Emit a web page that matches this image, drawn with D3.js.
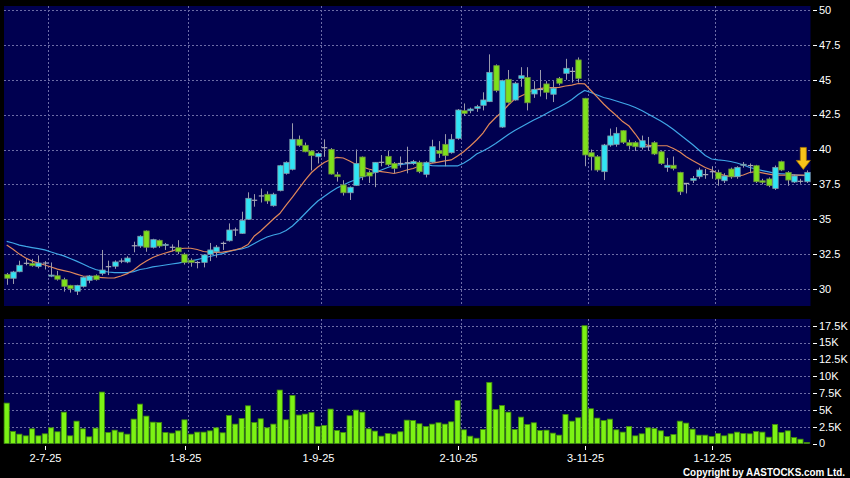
<!DOCTYPE html>
<html><head><meta charset="utf-8">
<script src="https://cdn.jsdelivr.net/npm/d3@7"></script>
<style>html,body{margin:0;padding:0;background:#000;}svg{display:block;}</style>
</head><body>
<svg id="chart" width="850" height="478"></svg>
<script>
const dates = ["20-6-25","23-6-25","24-6-25","25-6-25","26-6-25","27-6-25","30-6-25",
"2-7-25","3-7-25","4-7-25","7-7-25","8-7-25","9-7-25","10-7-25","11-7-25","14-7-25","15-7-25","16-7-25","17-7-25","18-7-25","21-7-25","22-7-25","23-7-25","24-7-25","25-7-25","28-7-25","29-7-25","30-7-25","31-7-25",
"1-8-25","4-8-25","5-8-25","6-8-25","7-8-25","8-8-25","11-8-25","12-8-25","13-8-25","14-8-25","15-8-25","18-8-25","19-8-25","20-8-25","21-8-25","22-8-25","25-8-25","26-8-25","27-8-25","28-8-25","29-8-25",
"1-9-25","2-9-25","3-9-25","4-9-25","5-9-25","8-9-25","9-9-25","10-9-25","11-9-25","12-9-25","15-9-25","16-9-25","17-9-25","18-9-25","19-9-25","22-9-25","23-9-25","24-9-25","25-9-25","26-9-25","29-9-25","30-9-25",
"2-10-25","3-10-25","6-10-25","8-10-25","9-10-25","10-10-25","13-10-25","14-10-25","15-10-25","16-10-25","17-10-25","20-10-25","21-10-25","22-10-25","23-10-25","24-10-25","27-10-25","28-10-25","30-10-25","31-10-25",
"3-11-25","4-11-25","5-11-25","6-11-25","7-11-25","10-11-25","11-11-25","12-11-25","13-11-25","14-11-25","17-11-25","18-11-25","19-11-25","20-11-25","21-11-25","24-11-25","25-11-25","26-11-25","27-11-25","28-11-25",
"1-12-25","2-12-25","3-12-25","4-12-25","5-12-25","8-12-25","9-12-25","10-12-25","11-12-25","12-12-25","15-12-25","16-12-25","17-12-25","18-12-25","19-12-25"];

const openP = [31.05,30.77,31.24,31.84,31.84,31.62,31.86,30.92,30.95,30.67,
30.26,29.84,30.19,30.62,30.95,31.12,31.60,31.63,32.00,31.94,
33.10,33.08,34.16,32.99,33.49,33.12,32.99,32.96,32.49,32.06,
31.90,31.91,32.49,32.67,33.27,33.46,34.23,33.99,35.00,36.36,
36.67,36.79,35.97,37.05,38.29,38.58,40.73,40.30,39.89,39.48,
40.13,40.01,38.19,37.46,36.90,37.43,39.46,38.36,38.36,39.08,
39.51,39.00,39.00,39.05,39.00,39.08,38.22,39.10,39.91,40.37,
39.77,40.80,42.78,42.78,42.95,43.17,43.43,46.01,41.61,45.03,
43.55,45.10,45.17,43.98,44.30,44.70,43.96,45.10,45.46,45.60,
46.42,43.67,39.77,39.48,38.41,40.32,40.37,41.35,40.49,40.49,
40.16,40.20,40.49,39.84,38.72,38.87,38.36,37.57,37.79,38.05,
38.20,38.41,38.34,37.76,38.60,38.05,38.88,38.85,38.84,37.76,
37.89,37.21,39.13,38.36,37.67,37.72,37.69];
const highP = [31.15,31.30,32.03,32.15,32.16,32.40,32.00,31.90,31.30,30.81,
30.30,30.30,30.90,31.00,31.05,32.80,32.03,32.05,32.20,32.35,
33.39,33.85,34.20,33.60,33.55,33.30,33.20,33.50,32.60,32.20,
32.00,32.50,33.30,33.15,33.40,34.70,34.40,35.54,36.93,36.80,
37.20,37.00,36.90,38.90,39.15,41.88,41.00,40.50,39.95,39.80,
40.73,40.10,38.40,37.80,37.35,40.00,39.50,38.50,39.10,39.60,
39.90,39.10,39.50,40.20,39.25,39.20,39.15,40.70,40.60,41.10,
41.10,42.90,43.30,43.00,43.20,44.10,46.82,46.10,45.00,45.70,
44.85,45.90,45.90,44.90,45.70,44.90,44.90,45.20,46.50,45.90,
46.60,43.70,40.00,39.60,40.40,41.50,41.60,41.40,40.70,40.60,
41.00,40.90,40.60,39.90,39.40,39.50,38.40,37.60,38.10,38.70,
38.60,38.80,38.55,38.30,38.70,38.80,39.10,39.00,38.90,37.90,
38.00,38.85,39.20,38.45,38.20,37.90,38.50];
const lowP = [30.30,30.36,31.20,31.70,31.60,31.48,31.40,30.85,30.60,29.81,
29.74,29.57,30.10,30.41,30.60,30.97,31.00,31.45,31.85,31.85,
32.63,32.95,32.67,32.90,32.95,32.80,32.70,32.50,31.75,31.60,
31.48,31.55,32.00,32.25,32.80,33.40,33.80,33.95,34.95,35.90,
36.20,36.10,35.90,37.00,38.20,38.50,40.20,39.80,38.50,39.00,
39.48,38.20,37.70,36.70,36.38,37.40,37.80,37.60,37.30,38.80,
38.80,38.30,38.70,38.29,38.90,38.30,38.00,39.05,39.40,38.80,
39.70,40.70,42.40,42.60,42.70,42.80,43.40,44.10,41.55,43.30,
43.50,44.50,42.80,43.70,43.80,43.60,43.40,44.60,45.00,44.80,
44.80,38.80,38.50,38.40,37.81,40.20,40.20,40.40,40.00,39.90,
40.00,39.90,39.60,38.90,38.40,38.50,36.74,36.85,37.60,37.90,
37.90,37.90,37.40,37.60,37.90,37.90,38.70,38.30,37.60,37.50,
37.30,37.10,38.45,37.40,37.60,37.55,37.60];
const closeP = [30.77,31.22,31.70,31.84,31.67,31.86,31.86,31.00,30.70,30.19,
30.02,30.26,30.84,30.93,30.67,31.36,31.60,31.94,32.00,32.22,
33.10,33.78,32.99,33.54,33.08,33.20,32.99,32.67,31.91,31.91,
31.90,32.44,32.80,33.00,33.27,34.23,34.23,34.92,36.50,36.36,
36.67,36.31,36.79,38.84,39.08,40.73,40.30,39.84,39.56,39.72,
40.13,38.24,38.05,36.90,37.29,39.00,38.05,38.10,39.08,39.08,
38.91,38.65,39.00,39.05,39.13,38.41,39.08,40.20,39.72,39.56,
40.73,42.83,42.59,42.90,43.07,43.55,45.53,44.22,44.93,43.38,
44.75,45.29,43.35,44.31,44.30,44.10,44.39,44.75,45.82,45.60,
45.10,39.61,39.48,38.53,40.32,40.97,41.16,40.52,40.27,40.20,
40.63,40.20,39.68,39.00,38.87,38.65,36.97,37.57,37.93,38.53,
38.20,38.41,37.89,38.10,38.05,38.72,38.94,38.85,37.69,37.65,
37.41,38.72,38.53,37.81,38.10,37.72,38.36];
// volume in thousands
const volume = [6.0,1.79,1.39,1.14,2.18,1.14,1.44,2.33,1.74,4.66,
1.14,3.32,2.18,0.99,2.28,7.64,1.64,1.98,1.69,1.39,
3.62,5.85,4.07,3.17,3.13,1.64,1.54,1.88,3.52,1.39,
1.69,1.69,1.88,2.33,1.59,4.17,2.88,3.72,5.6,3.13,
3.67,2.33,2.88,7.94,3.52,7.14,4.22,4.37,4.61,2.53,
2.68,5.11,1.93,1.64,4.12,4.96,4.66,2.18,1.84,1.09,
1.49,1.39,1.74,3.47,3.42,2.93,2.53,2.88,3.08,2.88,
3.22,6.4,2.03,1.09,0.79,2.08,9.08,5.06,5.65,4.66,
2.08,3.92,2.83,3.08,1.93,1.98,1.54,1.24,4.32,3.32,
3.82,17.5,5.16,3.77,3.42,3.62,2.03,1.69,2.53,1.14,
1.44,2.33,2.23,1.88,1.04,1.34,3.32,3.03,2.13,1.24,
1.24,1.04,1.49,1.14,1.44,1.69,1.49,1.44,1.79,1.69,
0.94,2.83,1.64,1.88,0.89,0.64,0.15];
const maShort = [33.15,32.85,32.5,32.22,32.0,31.85,31.72,31.58,31.43,31.32,
31.22,31.07,30.93,30.9,30.86,30.82,30.79,30.8,30.93,31.1,
31.36,31.72,32.0,32.26,32.44,32.58,32.72,32.87,32.92,32.92,
32.83,32.69,32.65,32.63,32.65,32.72,32.8,32.94,33.19,33.8,
34.16,34.59,35.02,35.41,36.02,36.59,37.2,37.81,38.35,38.75,
39.07,39.28,39.43,39.39,39.18,38.92,38.75,38.6,38.49,38.42,
38.35,38.28,38.39,38.53,38.64,38.82,38.89,39.03,39.1,39.18,
39.25,39.53,39.86,40.25,40.68,41.18,41.83,42.29,42.69,43.19,
43.62,43.84,44.05,44.27,44.37,44.43,44.44,44.46,44.55,44.62,
44.73,44.7,44.23,43.76,43.26,42.83,42.44,42.0,41.68,41.11,
40.47,40.29,40.27,40.27,40.27,40.07,39.82,39.48,39.21,38.96,
38.71,38.53,38.28,38.14,38.06,38.08,38.17,38.35,38.41,38.32,
38.24,38.17,38.17,38.17,38.17,38.17,38.17];
const maLong = [33.41,33.3,33.15,33.05,32.97,32.9,32.8,32.65,32.51,32.37,
32.19,32.0,31.79,31.58,31.4,31.29,31.22,31.18,31.17,31.17,
31.25,31.4,31.47,31.58,31.65,31.72,31.79,31.86,31.94,32.01,
32.11,32.22,32.33,32.44,32.54,32.69,32.8,32.87,33.01,33.26,
33.51,33.73,33.87,33.98,34.19,34.52,34.95,35.41,35.88,36.31,
36.63,36.95,37.24,37.46,37.67,37.85,38.03,38.17,38.35,38.53,
38.71,38.85,38.92,38.99,39.0,39.0,38.92,38.85,38.82,38.82,
38.82,38.82,39.03,39.32,39.68,39.89,40.14,40.43,40.75,41.08,
41.36,41.61,41.86,42.11,42.33,42.58,42.83,43.05,43.3,43.58,
43.94,44.23,44.09,43.91,43.73,43.62,43.48,43.33,43.19,43.01,
42.8,42.54,42.29,42.04,41.76,41.43,41.08,40.72,40.36,39.96,
39.57,39.32,39.25,39.21,39.14,39.03,38.89,38.71,38.6,38.49,
38.39,38.29,38.26,38.24,38.19,38.15,38.12];
const priceTicks = [30,32.5,35,37.5,40,42.5,45,47.5,50];
const volTicks = [0,2.5,5,7.5,10,12.5,15,17.5];
const xTickLabels = ["2-7-25","1-8-25","1-9-25","2-10-25","3-11-25","1-12-25"];

const svg = d3.select("#chart");
const FONT = "'Liberation Sans', Arial, sans-serif";
const N = dates.length;
const x = d3.scaleBand().domain(d3.range(N)).range([3.5, 810]).padding(0);
const bw = x.bandwidth();
const cx = i => x(i) + bw / 2;
const y = d3.scaleLinear().domain([30, 50]).range([289, 10]);
const yv = d3.scaleLinear().domain([0, 17.5]).range([443.5, 325.7]);

const P = {l: 4, r: 810.5, t: 6, b: 306};
const V = {t: 319, b: 444};
svg.append("rect").attr("width", 850).attr("height", 478).attr("fill", "#000");
svg.append("rect").attr("x", P.l).attr("y", P.t).attr("width", P.r - P.l).attr("height", P.b - P.t).attr("fill", "#000050");
svg.append("rect").attr("x", P.l).attr("y", V.t).attr("width", P.r - P.l).attr("height", V.b - V.t).attr("fill", "#000050");

const gridCol = "#6c6ca6";
const gx = xTickLabels.map(l => x(dates.indexOf(l)));
// vertical grid
[[P.t, P.b], [V.t, V.b]].forEach(([t, b]) => {
  svg.append("g").selectAll("line").data(gx).join("line")
    .attr("x1", d => Math.round(d) + 0.5).attr("x2", d => Math.round(d) + 0.5)
    .attr("y1", t).attr("y2", b)
    .attr("stroke", gridCol).attr("stroke-width", 1).attr("stroke-dasharray", "2,2");
});
// horizontal grid price
svg.append("g").selectAll("line").data(priceTicks).join("line")
  .attr("x1", P.l).attr("x2", P.r)
  .attr("y1", d => Math.round(y(d)) + 0.5).attr("y2", d => Math.round(y(d)) + 0.5)
  .attr("stroke", gridCol).attr("stroke-dasharray", "2,2");
svg.append("g").selectAll("line").data(volTicks.filter(v => v > 0)).join("line")
  .attr("x1", P.l).attr("x2", P.r)
  .attr("y1", d => Math.round(yv(d)) + 0.5).attr("y2", d => Math.round(yv(d)) + 0.5)
  .attr("stroke", gridCol).attr("stroke-dasharray", "2,2");

// volume bars
svg.append("g").selectAll("rect").data(volume).join("rect")
  .attr("x", (d, i) => x(i) + 0.6).attr("width", bw - 1.2)
  .attr("y", d => yv(d)).attr("height", d => yv(0) - yv(d))
  .attr("fill", "#7cf214").attr("stroke", "#3f8a0c").attr("stroke-width", 0.8);

// MA lines
const line = d3.line().x((d, i) => cx(i)).y(d => y(d));
svg.append("path").datum(maLong).attr("d", line).attr("fill", "none").attr("stroke", "#3fa6e6").attr("stroke-width", 1.2);
svg.append("path").datum(maShort).attr("d", line).attr("fill", "none").attr("stroke", "#e0875a").attr("stroke-width", 1.2);

// candles
const cg = svg.append("g");
d3.range(N).forEach(i => {
  const o = openP[i], c = closeP[i], h = highP[i], l = lowP[i];
  const xc = Math.round(cx(i)) + 0.5;
  cg.append("line").attr("x1", xc).attr("x2", xc).attr("y1", y(h)).attr("y2", y(l))
    .attr("stroke", "#9a9aac").attr("stroke-width", 1);
  const top = y(Math.max(o, c)), bot = y(Math.min(o, c));
  if (Math.abs(o - c) < 0.005) {
    cg.append("line").attr("x1", xc - 2.7).attr("x2", xc + 2.7).attr("y1", top).attr("y2", top)
      .attr("stroke", "#a8a8b8").attr("stroke-width", 1.2);
  } else {
    const up = c > o;
    cg.append("rect").attr("x", xc - 2.7).attr("width", 5.4)
      .attr("y", top).attr("height", Math.max(1, bot - top))
      .attr("fill", up ? "#30e4f4" : "#7fe01c")
      .attr("stroke", up ? "#7f98a8" : "#6c8e40").attr("stroke-width", 0.8);
  }
});

// arrow on last candle
const ax = cx(N - 1) - 3.5, atip = y(highP[N - 1]) - 1;
svg.append("path")
  .attr("d", `M${ax - 3},${atip - 22} L${ax + 3},${atip - 22} L${ax + 3},${atip - 9} L${ax + 7},${atip - 9} L${ax},${atip} L${ax - 7},${atip - 9} L${ax - 3},${atip - 9} Z`)
  .attr("fill", "#f7c21a").attr("stroke", "#b07a00").attr("stroke-width", 0.8);

// right axes
const ya = svg.append("g").attr("font-family", FONT).attr("font-size", 11).attr("fill", "#fff");
priceTicks.forEach(v => {
  ya.append("line").attr("x1", 813).attr("x2", 817).attr("y1", Math.round(y(v)) + 0.5).attr("y2", Math.round(y(v)) + 0.5).attr("stroke", "#fff");
  ya.append("text").attr("x", 819).attr("y", y(v)).attr("dy", "0.35em").text(String(v));
});
volTicks.forEach(v => {
  ya.append("line").attr("x1", 813).attr("x2", 817).attr("y1", Math.round(yv(v)) + 0.5).attr("y2", Math.round(yv(v)) + 0.5).attr("stroke", "#fff");
  ya.append("text").attr("x", 819).attr("y", yv(v)).attr("dy", "0.35em").text(v === 0 ? "0" : v + "K");
});
// x axis labels
const xa = svg.append("g").attr("font-family", FONT).attr("font-size", 11).attr("fill", "#fff");
xTickLabels.forEach((l, k) => {
  const px = Math.round(gx[k]) - 2.5;
  xa.append("line").attr("x1", px).attr("x2", px).attr("y1", 446).attr("y2", 450).attr("stroke", "#fff");
  xa.append("text").attr("x", px).attr("y", 462).attr("text-anchor", "middle").text(l);
});
svg.append("text").attr("x", 845).attr("y", 476).attr("text-anchor", "end")
  .attr("font-family", FONT).attr("font-size", 10).attr("font-weight", "bold").attr("fill", "#fff")
  .attr("textLength", 162).attr("lengthAdjust", "spacingAndGlyphs")
  .text("Copyright by AASTOCKS.com Ltd.");
</script>
</body></html>
